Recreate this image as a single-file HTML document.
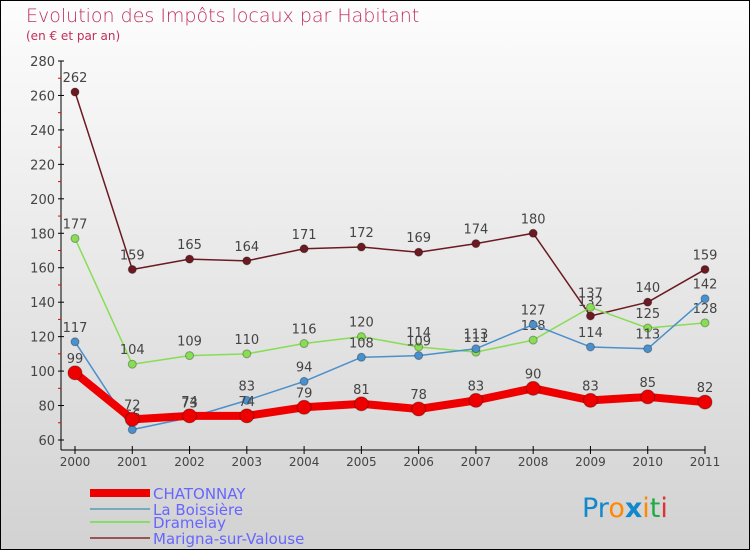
<!DOCTYPE html>
<html><head><meta charset="utf-8"><style>
body{margin:0;}
#c{width:750px;height:550px;position:relative;box-sizing:border-box;border:1px solid #000;background:linear-gradient(#fdfdfd,#d2d2d2);font-family:"DejaVu Sans","Liberation Sans",sans-serif;overflow:hidden}
</style></head><body>
<div id="c">
<svg id="s" width="750" height="550" style="position:absolute;left:-1px;top:-1px">
<text x="26" y="22" font-size="19" fill="#c0305a" font-family="DejaVu Sans, sans-serif" font-weight="200">Evolution des Impôts locaux par Habitant</text>
<text x="26" y="40" font-size="12" fill="#c0305a">(en € et par an)</text>
<g id="axes"></g><g id="series"></g>
<g>
<rect x="90" y="489" width="60" height="8" fill="#e00"/>
<text x="153" y="499" font-size="15" fill="#66f">CHATONNAY</text>
<line x1="90" x2="150" y1="509" y2="509" stroke="#7ab" stroke-width="2"/>
<text x="153" y="515" font-size="15" fill="#66f">La Boissière</text>
<line x1="90" x2="150" y1="522" y2="522" stroke="#8d6" stroke-width="2"/>
<text x="153" y="528" font-size="15" fill="#66f">Dramelay</text>
<line x1="90" x2="150" y1="538" y2="538" stroke="#955" stroke-width="2"/>
<text x="153" y="544" font-size="15" fill="#66f">Marigna-sur-Valouse</text>
</g>
<text x="582" y="517" font-size="27" font-family="DejaVu Sans, sans-serif"><tspan fill="#18c">Pr</tspan><tspan fill="#f80">o</tspan><tspan fill="#18c" font-weight="bold">x</tspan><tspan fill="#f80">i</tspan><tspan fill="#2a4">t</tspan><tspan fill="#d33">i</tspan></text>
</svg></div>
<script>
const years=[2000,2001,2002,2003,2004,2005,2006,2007,2008,2009,2010,2011];
const yTicks=[60,80,100,120,140,160,180,200,220,240,260,280];
const chatonnay=[99,72,74,74,79,81,78,83,90,83,85,82];
const boissiere=[117,66,73,83,94,108,109,113,127,114,113,142];
const dramelay=[177,104,109,110,116,120,114,111,118,137,125,128];
const marigna=[262,159,165,164,171,172,169,174,180,132,140,159];
const NS="http://www.w3.org/2000/svg";
const x=i=>75+i*(705-75)/(years.length-1);
const y=v=>440-(v-60)*(440-61)/220;
function mk(t,a,p){const e=document.createElementNS(NS,t);for(const k in a)e.setAttribute(k,a[k]);p.appendChild(e);return e;}
const ax=document.getElementById('axes');
let yl=mk('line',{x1:61,x2:61,y1:61,y2:450,stroke:'#000'},ax);


let xl=mk('line',{x1:61,x2:705,y1:450,y2:450,stroke:'#000'},ax);


yTicks.forEach(v=>{mk('line',{x1:58,x2:64,y1:y(v),y2:y(v),stroke:'#000'},ax);
 if(v<280)mk('line',{x1:58,x2:61,y1:y(v+10),y2:y(v+10),stroke:'#e00'},ax);
 const t=mk('text',{x:55,y:y(v)+5,'font-size':13,fill:'#444','text-anchor':'end'},ax);t.textContent=v;
 
 });
years.forEach((yr,i)=>{mk('line',{x1:x(i),x2:x(i),y1:446,y2:454,stroke:'#000'},ax);
 const t=mk('text',{x:x(i),y:466,'font-size':12,fill:'#444','text-anchor':'middle'},ax);t.textContent=yr;
 
 });
const sg=document.getElementById('series');
function series(vals,color,w,r,name){
 const g=mk('g',{},sg);
 
 
 mk('polyline',{points:vals.map((v,i)=>x(i)+','+y(v)).join(' '),fill:'none',stroke:color,'stroke-width':w,'stroke-linejoin':'round'},g);
 vals.forEach((v,i)=>{const c=mk('circle',{cx:x(i),cy:y(v),r:r,fill:color,stroke:'rgba(0,0,0,0.3)'},g);
  
  
  const t=mk('text',{x:x(i),y:y(v)-10,'font-size':13,fill:'#444','text-anchor':'middle'},g);t.textContent=v;
  
  });
}
series(marigna,'#6b1a22',1.5,4,'series-marigna');
series(dramelay,'#88dd55',1.5,4,'series-dramelay');
series(boissiere,'#4a90cc',1.5,4,'series-boissiere');
series(chatonnay,'#ee0000',8,7,'series-chatonnay');
</script>
</body></html>
